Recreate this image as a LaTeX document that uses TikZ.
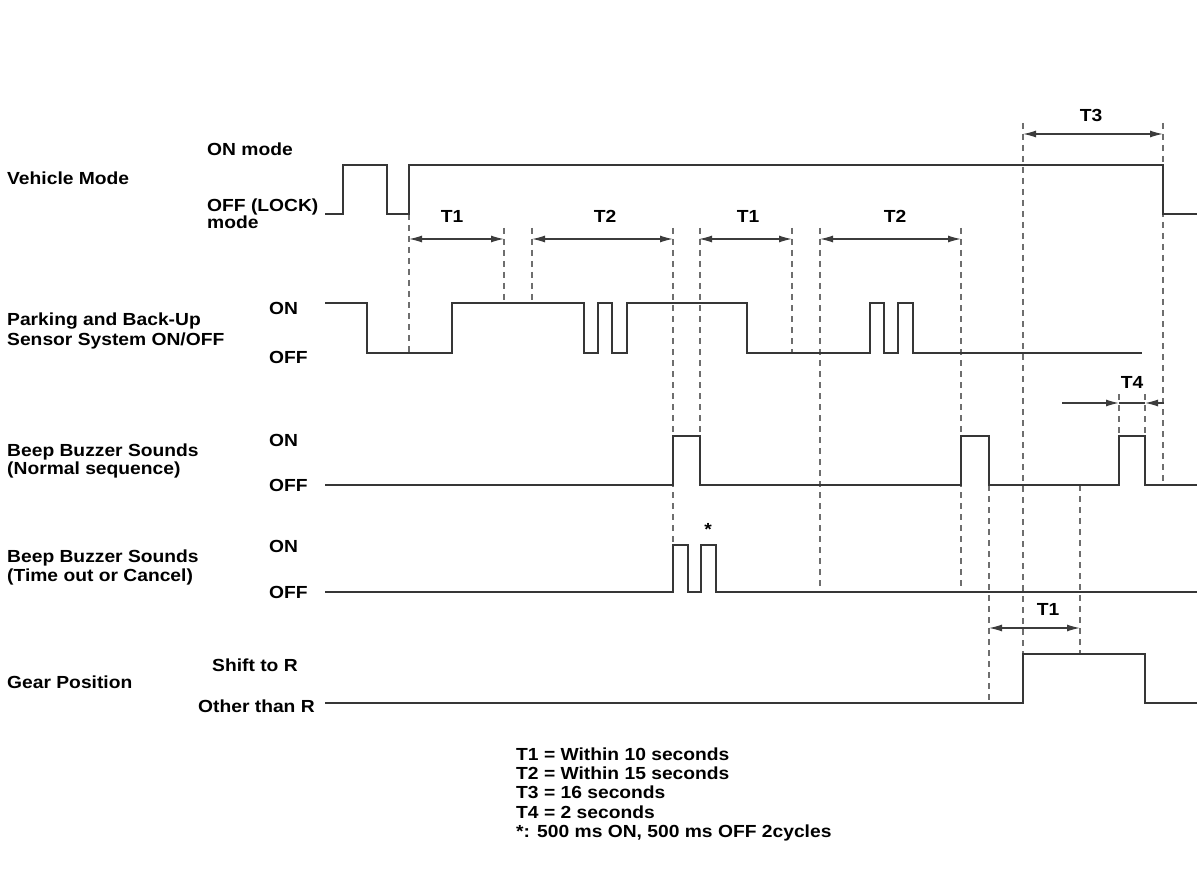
\documentclass[tikz,border=0pt]{standalone}
\usepackage{fontspec}
\setmainfont[FakeStretch=1.1]{Liberation Sans}
\usetikzlibrary{arrows.meta}
\definecolor{sigc}{HTML}{363636}
\definecolor{guidec}{HTML}{6E6E6E}
\definecolor{dimc}{HTML}{3C3C3C}
\newcommand\lblfont{\fontsize{17.5}{19}\selectfont\bfseries}
\begin{document}
\begin{tikzpicture}[x=1pt,y=-1pt,
  sig/.style={line width=2.1pt, draw=sigc, line join=miter},
  guide/.style={line width=1.4pt, draw=guidec, dash pattern=on 6pt off 5pt},
  dimtip/.style={line width=1.3pt, draw=dimc, {Latex[length=13pt,width=7pt]}-{Latex[length=13pt,width=7pt]}},
  onetip/.style={line width=1.3pt, draw=dimc, -{Latex[length=13pt,width=7pt]}},
  lbl/.style={anchor=base west, inner sep=0pt, font=\lblfont, text=black},
  tlab/.style={anchor=center, inner sep=0pt, font=\lblfont, text=black}]
\useasboundingbox[fill=white] (0,0) rectangle (1200,896);

% ---- row labels ----
\node[lbl] (vm) at (7,185) {Vehicle Mode};
\node[lbl] (vmon) at (207,156) {ON mode};
\node[lbl] (vmoff) at (207,212) {OFF (LOCK)};
\node[lbl] (vmoff2) at (207,229) {mode};
\node[lbl] (pk1) at (7,325) {Parking and Back-Up};
\node[lbl] (pk2) at (7,345) {Sensor System ON/OFF};
\node[lbl] (pkon) at (269,315) {ON};
\node[lbl] (pkoff) at (269,363) {OFF};
\node[lbl] (bn1) at (7,456) {Beep Buzzer Sounds};
\node[lbl] (bn2) at (7,474) {(Normal sequence)};
\node[lbl] (bnon) at (269,446) {ON};
\node[lbl] (bnoff) at (269,491) {OFF};
\node[lbl] (bt1) at (7,562) {Beep Buzzer Sounds};
\node[lbl] (bt2) at (7,581) {(Time out or Cancel)};
\node[lbl] (bton) at (269,552) {ON};
\node[lbl] (btoff) at (269,598) {OFF};
\node[lbl] (gp) at (7,688) {Gear Position};
\node[lbl] (gpr) at (212,671) {Shift to R};
\node[lbl] (gpo) at (198,712) {Other than R};

% ---- legend ----
\node[lbl] (lg1) at (516,760) {T1 = Within 10 seconds};
\node[lbl] (lg2) at (516,779) {T2 = Within 15 seconds};
\node[lbl] (lg3) at (516,798) {T3 = 16 seconds};
\node[lbl] (lg4) at (516,818) {T4 = 2 seconds};
\node[lbl] (lg5) at (516,837) {*: 500 ms ON, 500 ms OFF 2cycles};

% ---- guide (dashed) lines ----
\draw[guide] (409,214) -- (409,353);
\draw[guide] (504,228) -- (504,303);
\draw[guide] (532,228) -- (532,303);
\draw[guide] (673,228) -- (673,545);
\draw[guide] (700,228) -- (700,436);
\draw[guide] (792,228) -- (792,353);
\draw[guide] (820,228) -- (820,588);
\draw[guide] (961,228) -- (961,588);
\draw[guide] (989,485) -- (989,700);
\draw[guide] (1023,123) -- (1023,654);
\draw[guide] (1080,485) -- (1080,654);
\draw[guide] (1163,123) -- (1163,485);
\draw[guide] (1119,394) -- (1119,436);
\draw[guide] (1145,394) -- (1145,436);

% ---- signals ----
\draw[sig] (325,214) -| (343,165) -| (387,214) -| (409,165) -| (1163,214) -- (1197,214);
\draw[sig] (325,303) -| (367,353) -| (452,303) -| (584,353) -| (598,303) -| (612,353)
  -| (627,303) -| (747,353) -| (870,303) -| (884,353) -| (898,303) -| (913,353) -- (1142,353);
\draw[sig] (325,485) -| (673,436) -| (700,485) -| (961,436) -| (989,485) -| (1119,436)
  -| (1145,485) -- (1197,485);
\draw[sig] (325,592) -| (673,545) -| (688,592) -| (701,545) -| (716,592) -- (1197,592);
\draw[sig] (325,703) -| (1023,654) -| (1145,703) -- (1197,703);

% ---- dimension arrows ----
\coordinate (a1) at (409,239); \coordinate (b1) at (504,239);
\coordinate (a2) at (532,239); \coordinate (b2) at (673,239);
\coordinate (a3) at (699,239); \coordinate (b3) at (792,239);
\coordinate (a4) at (820,239); \coordinate (b4) at (961,239);
\coordinate (a5) at (1023,134); \coordinate (b5) at (1163,134);
\coordinate (a6) at (989,628); \coordinate (b6) at (1080,628);
\coordinate (c1) at (1062,403); \coordinate (c2) at (1119,403);
\coordinate (c3) at (1145,403); \coordinate (c4) at (1164,403);
\draw[dimtip] (a1) -- (b1);
\draw[dimtip] (a2) -- (b2);
\draw[dimtip] (a3) -- (b3);
\draw[dimtip] (a4) -- (b4);
\draw[dimtip] (a5) -- (b5);
\draw[dimtip] (a6) -- (b6);
\draw[onetip] (c1) -- (c2);
\draw[line width=1.3pt, draw=dimc] (c2) -- (c3);
\draw[onetip] (c4) -- (c3);

% ---- interval labels ----
\node[tlab] (lt1) at (452,216) {T1};
\node[tlab] (lt2) at (605,216) {T2};
\node[tlab] (lt3) at (748,216) {T1};
\node[tlab] (lt4) at (895,216) {T2};
\node[tlab] (lt5) at (1091,115) {T3};
\node[tlab] (lt6) at (1132,382) {T4};
\node[tlab] (lt7) at (1048,609) {T1};
\node[tlab] (star) at (708,529) {*};
\end{tikzpicture}
\end{document}
